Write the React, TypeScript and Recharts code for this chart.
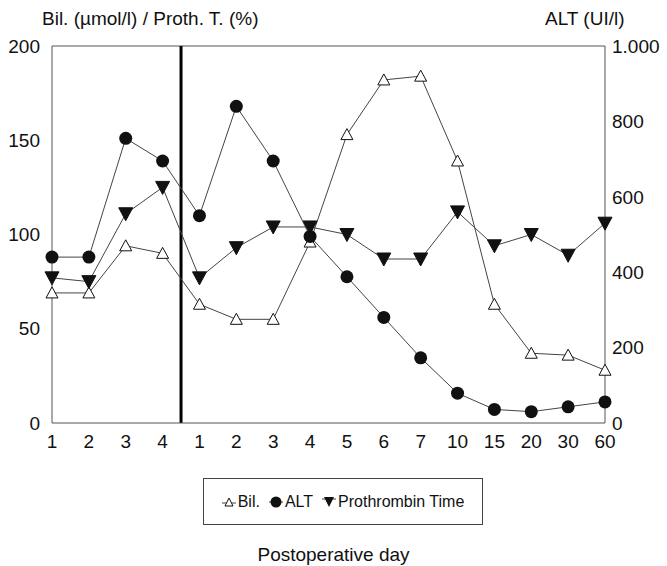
import { LineChart, Line, XAxis, YAxis, ReferenceLine } from "recharts";

const DAYS = ["1", "2", "3", "4", "1", "2", "3", "4", "5", "6", "7", "10", "15", "20", "30", "60"];
const BIL = [69, 69, 94, 90, 63, 55, 55, 96, 153, 182, 184, 139, 63, 37, 36, 28];
const ALT = [440, 440, 755, 695, 550, 840, 695, 495, 388, 280, 173, 79, 36, 30, 43, 56];
const PROTH = [77, 75, 111, 125, 77, 93, 104, 104, 100, 87, 87, 112, 94, 100, 89, 106];

const LEFT_TICKS = [0, 50, 100, 150, 200];
const RIGHT_TICKS = [0, 200, 400, 600, 800, 1000];

const FONT = '"Liberation Sans", Arial, sans-serif';

const data = DAYS.map((d, i) => ({
  idx: i,
  day: d,
  bil: BIL[i],
  alt: ALT[i],
  proth: PROTH[i],
}));

const TriangleUp = (props: any) => {
  const { cx, cy } = props;
  if (cx == null || cy == null) return null;
  return (
    <path
      d={`M${cx},${cy - 6} L${cx + 6},${cy + 5} L${cx - 6},${cy + 5} Z`}
      fill="#fff"
      stroke="#111"
      strokeWidth={1}
    />
  );
};

const TriangleDown = (props: any) => {
  const { cx, cy } = props;
  if (cx == null || cy == null) return null;
  return (
    <path
      d={`M${cx - 7},${cy - 6} L${cx + 7},${cy - 6} L${cx},${cy + 7} Z`}
      fill="#111"
      stroke="#111"
    />
  );
};

const Circle = (props: any) => {
  const { cx, cy } = props;
  if (cx == null || cy == null) return null;
  return <circle cx={cx} cy={cy} r={6.5} fill="#111" />;
};

const tickStyle = { fontSize: 19, fill: "#111", fontFamily: FONT };

export default function App() {
  return (
    <div
      style={{
        position: "absolute",
        left: 0,
        top: 0,
        width: 667,
        height: 566,
        background: "#fff",
        fontFamily: FONT,
        color: "#111",
      }}
    >
      <LineChart
        width={667}
        height={566}
        data={data}
        margin={{ top: 46, right: 0, bottom: 113, left: 0 }}
      >
        <XAxis
          dataKey="idx"
          type="number"
          domain={[0, 15]}
          ticks={data.map((d) => d.idx)}
          tickFormatter={(v: number) => DAYS[v]}
          interval={0}
          height={30}
          tickLine={false}
          tickMargin={6}
          tick={tickStyle}
          axisLine={{ stroke: "#555" }}
        />
        <YAxis
          yAxisId="left"
          domain={[0, 200]}
          ticks={LEFT_TICKS}
          width={52}
          tickLine={false}
          tickMargin={6}
          tick={tickStyle}
          axisLine={{ stroke: "#555" }}
        />
        <YAxis
          yAxisId="right"
          orientation="right"
          domain={[0, 1000]}
          ticks={RIGHT_TICKS}
          tickFormatter={(v: number) => (v === 1000 ? "1.000" : String(v))}
          width={62}
          tickLine={false}
          tickMargin={1}
          tick={tickStyle}
          axisLine={{ stroke: "#555" }}
        />
        <ReferenceLine yAxisId="left" y={200} stroke="#555" />
        <ReferenceLine yAxisId="left" x={3.5} stroke="#000" strokeWidth={3} />
        <Line
          yAxisId="left"
          dataKey="bil"
          stroke="#444"
          strokeWidth={1}
          dot={<TriangleUp />}
          isAnimationActive={false}
        />
        <Line
          yAxisId="right"
          dataKey="alt"
          stroke="#444"
          strokeWidth={1}
          dot={<Circle />}
          isAnimationActive={false}
        />
        <Line
          yAxisId="left"
          dataKey="proth"
          stroke="#444"
          strokeWidth={1}
          dot={<TriangleDown />}
          isAnimationActive={false}
        />
      </LineChart>

      <div style={{ position: "absolute", left: 42, top: 8, fontSize: 19 }}>
        Bil. (µmol/l) / Proth. T. (%)
      </div>
      <div style={{ position: "absolute", left: 545, top: 8, fontSize: 19 }}>
        ALT (UI/l)
      </div>

      <div
        style={{
          position: "absolute",
          left: 203,
          top: 478,
          width: 280,
          height: 47,
          boxSizing: "border-box",
          border: "1px solid #444",
          display: "flex",
          alignItems: "center",
          justifyContent: "center",
          gap: 9,
          fontSize: 16,
        }}
      >
        <span style={{ display: "flex", alignItems: "center", gap: 2 }}>
          <svg width={14} height={14}>
            <line x1={0} y1={8} x2={14} y2={8} stroke="#444" />
            <path d="M7,3 L11,11 L3,11 Z" fill="#fff" stroke="#111" />
          </svg>
          Bil.
        </span>
        <span style={{ display: "flex", alignItems: "center", gap: 2 }}>
          <svg width={14} height={14}>
            <line x1={0} y1={7} x2={14} y2={7} stroke="#444" />
            <circle cx={7} cy={7} r={5.5} fill="#111" />
          </svg>
          ALT
        </span>
        <span style={{ display: "flex", alignItems: "center", gap: 2 }}>
          <svg width={14} height={14}>
            <line x1={0} y1={4} x2={14} y2={4} stroke="#444" />
            <path d="M2,2 L12,2 L7,12 Z" fill="#111" />
          </svg>
          Prothrombin Time
        </span>
      </div>

      <div
        style={{
          position: "absolute",
          left: 0,
          width: 667,
          top: 544,
          textAlign: "center",
          fontSize: 19,
        }}
      >
        Postoperative day
      </div>
    </div>
  );
}
